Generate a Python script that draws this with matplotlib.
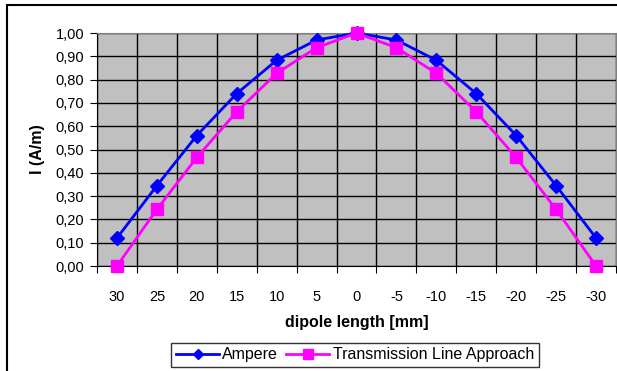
import numpy as np
import matplotlib
matplotlib.use('Agg')
import matplotlib.pyplot as plt
from matplotlib.patches import Rectangle

plt.rcParams['font.family'] = ['Liberation Sans', 'DejaVu Sans']

# ── data ─────────────────────────────────────────
lengths = ['30', '25', '20', '15', '10', '5', '0', '-5', '-10', '-15', '-20', '-25', '-30']
ampere = [0.12, 0.345, 0.56, 0.74, 0.883, 0.97, 1.00, 0.97, 0.883, 0.74, 0.56, 0.345, 0.12]
tl_approach = [0.00, 0.243, 0.466, 0.662, 0.827, 0.937, 1.00, 0.937, 0.827, 0.662, 0.466, 0.243, 0.00]
y_ticks = np.arange(0, 1.01, 0.1)

fig = plt.figure(figsize=(6.17, 3.71), dpi=100)
fig.patches.append(Rectangle((7 / 617, -0.1), 1.2, (371 - 5) / 371 + 0.1,
                             transform=fig.transFigure, fill=False,
                             edgecolor='black', linewidth=1.5, zorder=0))

ax = fig.add_axes([97 / 617, 105 / 371, 519 / 617, 233 / 371])
ax.set_facecolor('#C0C0C0')

x = np.arange(len(lengths))
ax.plot(x, ampere, color='#0000FF', lw=2, marker='D', markersize=7,
        label='Ampere', zorder=3, clip_on=False)
ax.plot(x, tl_approach, color='#FF00FF', lw=2, marker='s', markersize=9,
        label='Transmission Line Approach', zorder=3, clip_on=False)

ax.set_xlim(-0.5, len(lengths) - 0.5)
ax.set_ylim(0, 1.0)

# grid lines at category borders and every 0.1
ax.set_xticks(np.arange(-0.5, len(lengths), 1.0))
ax.set_xticklabels([])
ax.set_xticks(x, minor=True)
ax.set_xticklabels(lengths, minor=True, fontsize=10.5)
ax.tick_params(axis='x', which='minor', length=0, pad=17)
ax.tick_params(axis='x', which='major', length=5, direction='out')
ax.set_yticks(y_ticks)
ax.set_yticklabels([f'{v:.2f}'.replace('.', ',') for v in y_ticks], fontsize=10.5)
ax.tick_params(axis='y', length=5, direction='out', pad=4)
ax.grid(True, which='major', color='black', linewidth=1)

for s in ax.spines.values():
    s.set_color('#808080')
ax.spines['left'].set_color('black')
ax.spines['bottom'].set_color('black')

ax.set_xlabel('dipole length [mm]', fontsize=11.5, fontweight='bold', labelpad=8)
ax.set_ylabel('I (A/m)', fontsize=11.5, fontweight='bold', labelpad=8)

leg = fig.legend(loc='center', bbox_to_anchor=(355 / 617, 1 - 355 / 371),
                 ncol=2, fontsize=11.5, frameon=True, fancybox=False,
                 edgecolor='black', handlelength=2.7, columnspacing=0.5,
                 handletextpad=0.2, borderpad=0.3, markerscale=0.8)
leg.get_frame().set_linewidth(1)

plt.savefig('out.png', dpi=100)
